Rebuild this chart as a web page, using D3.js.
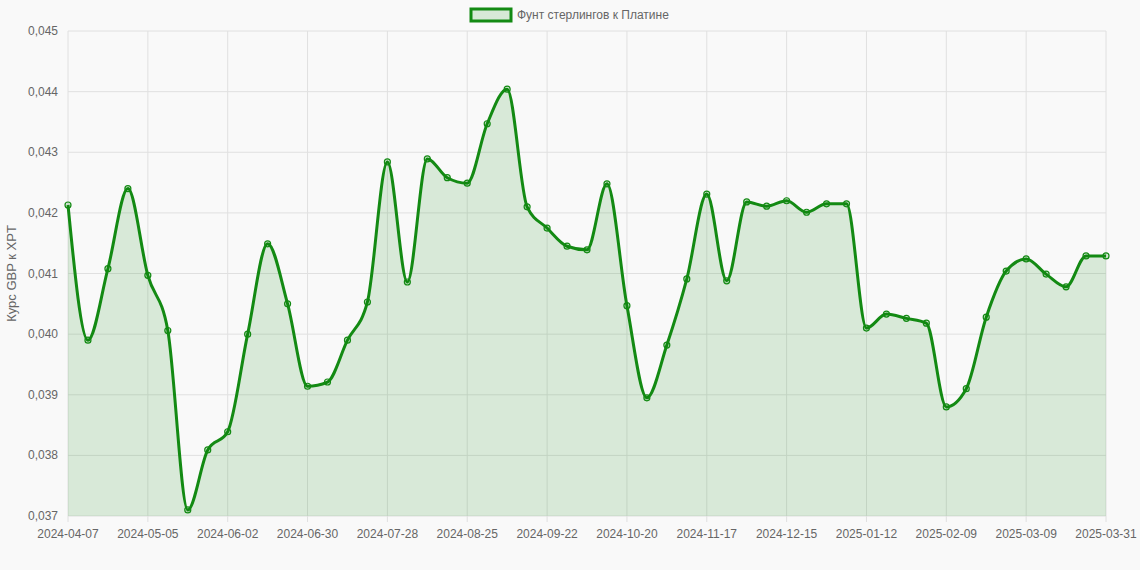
<!DOCTYPE html>
<html><head><meta charset="utf-8">
<script src="https://cdn.jsdelivr.net/npm/d3@7"></script>
<style>body{margin:0;background:#f9f9f9;font-family:"Liberation Sans",Arial,sans-serif}</style>
</head><body><svg id="c" width="1140" height="570"></svg>
<script>
const seriesName = "Фунт стерлингов к Платине";
const yTitle = "Курс GBP к XPT";
const values = [0.04213,0.03990,0.04108,0.04240,0.04097,0.04006,0.03710,0.03809,0.03839,0.04000,
0.04149,0.04050,0.03914,0.03921,0.03990,0.04053,0.04284,0.04086,0.04289,0.04258,
0.04249,0.04347,0.04404,0.04210,0.04175,0.04145,0.04139,0.04248,0.04047,0.03895,
0.03982,0.04091,0.04231,0.04088,0.04218,0.04211,0.04220,0.04201,0.04215,0.04215,
0.04010,0.04033,0.04026,0.04018,0.03880,0.03910,0.04028,0.04104,0.04124,0.04099,
0.04078,0.04129,0.04129];
const start = new Date(Date.UTC(2024,3,7));
const dates = values.map((v,i)=> i===values.length-1 ? "2025-03-31" : new Date(start.getTime()+i*7*864e5).toISOString().slice(0,10));
const yTicks = [0.037,0.038,0.039,0.040,0.041,0.042,0.043,0.044,0.045];

const svg = d3.select("#c");
const L=68,R=1106,T=31,B=516;
const x = d3.scalePoint().domain(d3.range(values.length)).range([L,R]);
const y = d3.scaleLinear().domain([0.037,0.045]).range([B,T]);
const fmt = d => d3.format(".3f")(d).replace(".",",");
const xIdx = d3.range(values.length).filter(i=>i%4===0 || i===values.length-1);

const g = svg.append("g");
g.selectAll(".hy").data(yTicks).join("line").attr("x1",L).attr("x2",R).attr("y1",y).attr("y2",y).attr("stroke","#e0e0e0");
g.selectAll(".vx").data(xIdx).join("line").attr("x1",x).attr("x2",x).attr("y1",T).attr("y2",B+6).attr("stroke","#e0e0e0");
g.selectAll(".yl").data(yTicks).join("text").attr("x",L-10).attr("y",d=>y(d)+4).attr("text-anchor","end").attr("font-size",12).attr("fill","#666").text(fmt);
g.selectAll(".xl").data(xIdx).join("text").attr("x",x).attr("y",B+22).attr("text-anchor","middle").attr("font-size",12).attr("fill","#666").text(i=>dates[i]);
svg.append("text").attr("transform",`translate(16,${(T+B)/2}) rotate(-90)`).attr("text-anchor","middle").attr("font-size",13).attr("fill","#666").text(yTitle);

const area = d3.area().x((d,i)=>x(i)).y0(B).y1(d=>y(d)).curve(d3.curveMonotoneX);
const line = d3.line().x((d,i)=>x(i)).y(d=>y(d)).curve(d3.curveMonotoneX);
svg.append("path").datum(values).attr("d",area).attr("fill","rgba(0,128,0,0.13)");
svg.append("path").datum(values).attr("d",line).attr("fill","none").attr("stroke","#138a13").attr("stroke-width",3);
svg.selectAll(".pt").data(values).join("circle").attr("cx",(d,i)=>x(i)).attr("cy",y).attr("r",3).attr("fill","rgba(0,128,0,0.15)").attr("stroke","#138a13").attr("stroke-width",1.2);

svg.append("rect").attr("x",471).attr("y",9).attr("width",40).attr("height",12).attr("fill","rgba(0,128,0,0.13)").attr("stroke","#138a13").attr("stroke-width",3);
svg.append("text").attr("x",517).attr("y",19).attr("font-size",12).attr("fill","#666").text(seriesName);
</script></body></html>
